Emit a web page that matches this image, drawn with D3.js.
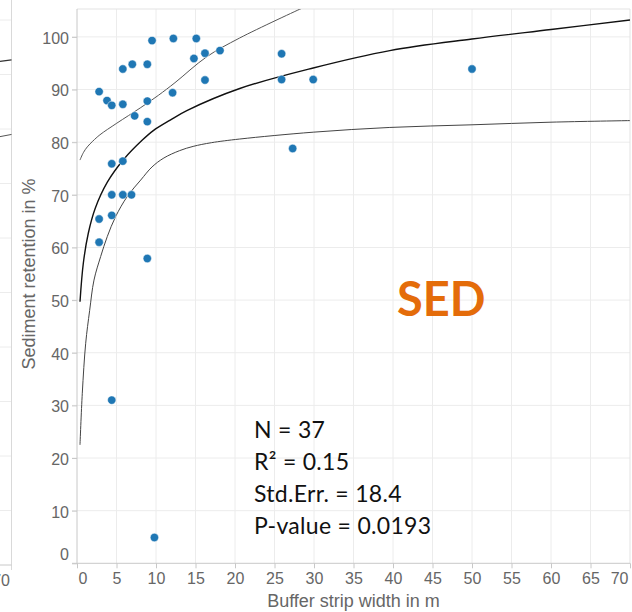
<!DOCTYPE html>
<html lang="en">
    <head>
        <meta charset="utf-8">
        <title>Sediment retention vs buffer strip width</title>
        <script type="text/javascript" src="https://cdn.jsdelivr.net/npm/d3@7"></script>
        <style type="text/css">
            body { margin: 0; background: #fff; }
            svg { display: block; }
        </style>
    </head>
    <body>
        <script type="text/javascript">
            var w = 632;
            var h = 612;

            //Data: buffer strip width (m) and sediment retention (%)
            var widths = [2.8, 3.8, 4.4, 5.8, 7.3, 8.9, 8.9, 12.1, 16.2, 4.4, 5.8, 4.4, 5.8, 6.9,
                          9.5, 5.8, 7.0, 8.9, 2.8, 4.4, 2.8, 8.9, 4.4, 9.8, 25.9, 25.9, 29.9,
                          50.0, 27.3, 12.2, 15.1, 14.8, 16.2, 18.1];
            var retention = [89.6, 87.9, 87.0, 87.2, 85.0, 87.8, 83.9, 89.4, 91.8, 75.9, 76.4, 70.0, 70.0, 70.0,
                             99.3, 93.9, 94.8, 94.8, 65.4, 66.1, 61.0, 57.9, 31.0, 4.9, 96.8, 91.9, 91.9,
                             93.9, 78.8, 99.7, 99.7, 95.9, 96.9, 97.4];

            //Fitted curve and band
            var fitX = [0.38, 0.8, 1.43, 2.3, 3.84, 5.95, 8.27, 9.66, 11.8, 13.9, 20.6, 29.9, 39.6, 50, 60, 70];
            var fitY = [49.7, 57.0, 62.7, 67.4, 72.4, 76.8, 80.4, 82.2, 84.2, 86.0, 90.2, 94.1, 97.4, 99.6, 101.4, 103.2];
            var upperX = [0.38, 0.8, 1.3, 2.0, 2.9, 5.03, 8.0, 10.3, 12.4, 16.4, 20.6, 28.4];
            var upperY = [76.6, 78.0, 79.1, 80.2, 81.4, 83.6, 86.5, 88.9, 91.3, 96.2, 99.8, 105.4];
            var lowerX = [0.38, 0.67, 1.1, 1.6, 2.15, 3.0, 3.84, 4.9, 6.37, 8.06, 9.5, 11, 13, 14.7, 17, 20.6, 29.9, 39.6, 50, 60, 70];
            var lowerY = [22.5, 32.3, 41.8, 48.0, 53.8, 58.3, 62.1, 65.9, 69.7, 72.8, 75.3, 77.0, 78.4, 79.2, 79.9, 80.6, 81.9, 82.8, 83.3, 83.8, 84.1];

            var xTicks = [0, 5, 10, 15, 20, 25, 30, 35, 40, 45, 50, 55, 60, 65, 70];
            var yTicks = [0, 10, 20, 30, 40, 50, 60, 70, 80, 90, 100];
            var stats = ["N = 37", "R² = 0.15", "Std.Err. = 18.4", "P-value = 0.0193"];

            //Neighbouring panel, only its right edge is visible
            var leftYTicks = [0, 10, 20, 30, 40, 50, 60, 70, 80, 90, 100];
            var leftFitX = [68.5, 70];
            var leftFitY = [92.4, 92.7];
            var leftLowX = [68.5, 70];
            var leftLowY = [78.6, 79.0];

            var plotL = 77, plotR = 630, plotT = 9, plotB = 563.3;
            var grid = "#ececec";
            var axisCol = "#c8c8c8";
            var txtCol = "#666";

            var xScale = d3.scaleLinear().domain([0, 70]).range([plotL, plotR]);
            var yScale = d3.scaleLinear().domain([0, 105.3]).range([plotB, plotT]);

            var svg = d3.select("body")
                        .append("svg")
                        .attr("width", w)
                        .attr("height", h);

            // ---- left neighbour panel ----
            var lx = d3.scaleLinear().domain([68.5, 70]).range([0, 11.5]);
            var ly = d3.scaleLinear().domain([0, 100]).range([565, 20]);
            svg.append("g").selectAll("line")
                .data(leftYTicks.slice(1))
                .enter().append("line")
                .attr("x1", 0).attr("x2", lx(70))
                .attr("y1", function(d) { return ly(d); })
                .attr("y2", function(d) { return ly(d); })
                .attr("stroke", grid);
            svg.append("line")
                .attr("x1", lx(70)).attr("x2", lx(70))
                .attr("y1", 0).attr("y2", ly(0) + 5)
                .attr("stroke", "#d9d9d9");
            svg.append("line")
                .attr("x1", 0).attr("x2", lx(70))
                .attr("y1", ly(0)).attr("y2", ly(0))
                .attr("stroke", axisCol);
            var leftLine = d3.line()
                .x(function(d) { return lx(d[0]); })
                .y(function(d) { return ly(d[1]); });
            svg.append("path")
                .attr("d", leftLine(d3.zip(leftFitX, leftFitY)))
                .attr("fill", "none").attr("stroke", "#333").attr("stroke-width", 1.2);
            svg.append("path")
                .attr("d", leftLine(d3.zip(leftLowX, leftLowY)))
                .attr("fill", "none").attr("stroke", "#555").attr("stroke-width", 1);
            svg.append("text")
                .text("70")
                .attr("x", lx(70) - 1.5)
                .attr("y", 586)
                .attr("text-anchor", "end")
                .attr("font-family", "Liberation Sans, Arial, sans-serif")
                .attr("font-size", "16px")
                .attr("fill", txtCol);

            // ---- main panel grid ----
            svg.append("g").selectAll("line")
                .data(xTicks.slice(1, -1))
                .enter().append("line")
                .attr("x1", function(d) { return xScale(d); })
                .attr("x2", function(d) { return xScale(d); })
                .attr("y1", plotT).attr("y2", plotB)
                .attr("stroke", grid);
            svg.append("g").selectAll("line")
                .data(yTicks.slice(1))
                .enter().append("line")
                .attr("x1", plotL - 5).attr("x2", plotR)
                .attr("y1", function(d) { return yScale(d); })
                .attr("y2", function(d) { return yScale(d); })
                .attr("stroke", grid);

            // frame
            svg.append("line")
                .attr("x1", plotL).attr("x2", plotR)
                .attr("y1", plotT).attr("y2", plotT)
                .attr("stroke", "#e3e3e3");
            svg.append("line")
                .attr("x1", plotR).attr("x2", plotR)
                .attr("y1", plotT).attr("y2", plotB)
                .attr("stroke", "#e3e3e3");

            // axes
            var xAxis = d3.axisBottom(xScale).tickValues(xTicks).tickSize(5).tickSizeOuter(0).tickPadding(4);
            var gx = svg.append("g")
                .attr("transform", "translate(0," + plotB + ")")
                .call(xAxis);
            var yAxis = d3.axisLeft(yScale).tickValues(yTicks).tickSize(5).tickSizeOuter(0).tickPadding(3);
            var gy = svg.append("g")
                .attr("transform", "translate(" + plotL + ",0)")
                .call(yAxis);

            [gx, gy].forEach(function(g) {
                g.select(".domain").attr("stroke", axisCol);
                g.selectAll(".tick line").attr("stroke", axisCol);
                g.selectAll(".tick text")
                    .attr("font-family", "Liberation Sans, Arial, sans-serif")
                    .attr("font-size", "16px")
                    .attr("fill", txtCol);
            });
            gy.select(".domain").attr("d", "M0," + plotT + "V" + plotB);
            gx.select(".domain").attr("d", "M" + (plotL - 5) + ",0H" + plotR);
            gy.selectAll(".tick text").attr("dy", "0.4em");
            gy.selectAll(".tick text").filter(function(d) { return d === 0; }).attr("dy", "-0.25em");
            gx.selectAll(".tick text").filter(function(d) { return d === 0; })
                .attr("text-anchor", "start").attr("x", 1);
            gx.selectAll(".tick text").filter(function(d) { return d === 70; })
                .attr("text-anchor", "end").attr("x", -2);

            // axis titles
            svg.append("text")
                .text("Buffer strip width in m")
                .attr("x", (plotL + plotR) / 2)
                .attr("y", 607)
                .attr("text-anchor", "middle")
                .attr("font-family", "Liberation Sans, Arial, sans-serif")
                .attr("font-size", "18px")
                .attr("fill", txtCol);
            svg.append("text")
                .text("Sediment retention in %")
                .attr("transform", "translate(35,274) rotate(-90)")
                .attr("text-anchor", "middle")
                .attr("font-family", "Liberation Sans, Arial, sans-serif")
                .attr("font-size", "18px")
                .attr("fill", txtCol);

            // fit curves
            svg.append("clipPath").attr("id", "pane")
                .append("rect")
                .attr("x", plotL).attr("y", plotT)
                .attr("width", plotR - plotL).attr("height", plotB - plotT);
            var curve = d3.line()
                .x(function(d) { return xScale(d[0]); })
                .y(function(d) { return yScale(d[1]); })
                .curve(d3.curveCatmullRom.alpha(0.5));
            var curves = svg.append("g").attr("clip-path", "url(#pane)");
            curves.append("path")
                .attr("d", curve(d3.zip(upperX, upperY)))
                .attr("fill", "none").attr("stroke", "#555").attr("stroke-width", 1);
            curves.append("path")
                .attr("d", curve(d3.zip(lowerX, lowerY)))
                .attr("fill", "none").attr("stroke", "#444").attr("stroke-width", 1);
            curves.append("path")
                .attr("d", curve(d3.zip(fitX, fitY)))
                .attr("fill", "none").attr("stroke", "#111").attr("stroke-width", 1.4);

            // points
            svg.append("g").selectAll("circle")
                .data(d3.zip(widths, retention))
                .enter()
                .append("circle")
                .attr("cx", function(d) { return xScale(d[0]); })
                .attr("cy", function(d) { return yScale(d[1]); })
                .attr("r", 4.2)
                .attr("fill", "#1f77b4")
                .attr("stroke", "#fff")
                .attr("stroke-width", 0.5);

            // annotation
            svg.append("text")
                .text("SED")
                .attr("x", 397)
                .attr("y", 316)
                .attr("font-family", "Lato, sans-serif")
                .attr("font-weight", "bold")
                .attr("font-size", "47px")
                .attr("fill", "#e46c0a");
            svg.append("g").selectAll("text")
                .data(stats)
                .enter()
                .append("text")
                .text(function(d) { return d; })
                .attr("x", 254)
                .attr("y", function(d, i) { return 438 + i * 32; })
                .attr("font-family", "Lato, sans-serif")
                .attr("font-size", "23px")
                .attr("letter-spacing", "0.3px")
                .attr("fill", "#111");
        </script>
    </body>
</html>
